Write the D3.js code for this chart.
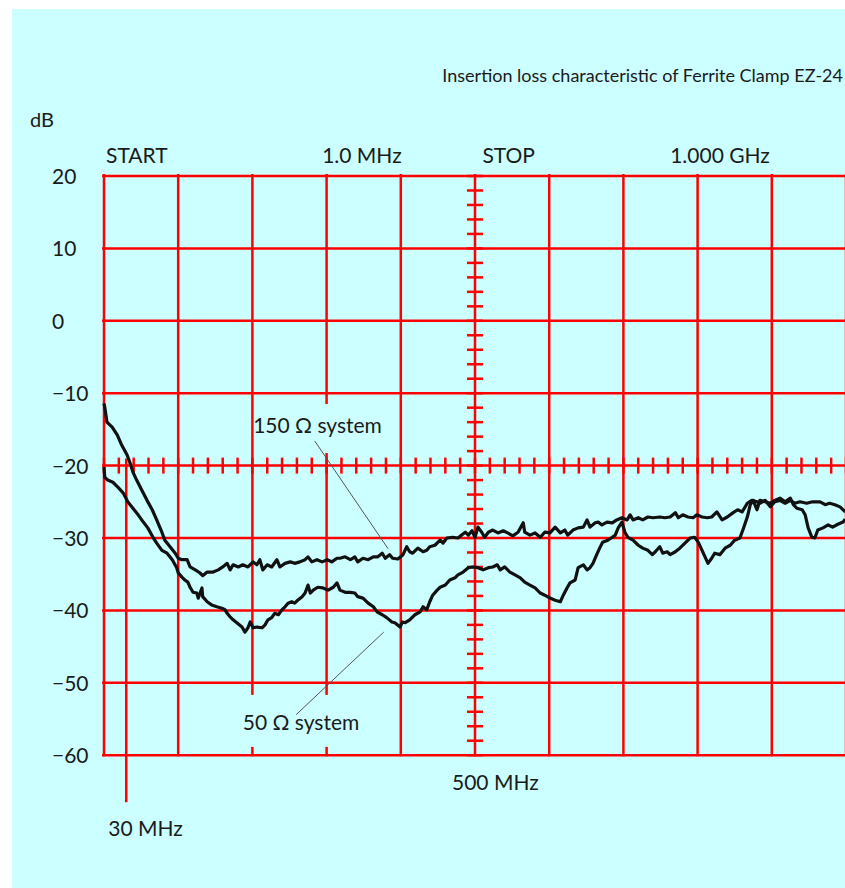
<!DOCTYPE html>
<html>
<head>
<meta charset="utf-8">
<script src="https://cdn.jsdelivr.net/npm/d3@7"></script>
<style>
  body { margin: 0; background: #fff; }
  text { font-family: Lato, 'Open Sans', sans-serif; fill: #1a1a1a; }
</style>
</head>
<body>
<svg class="chart" width="845" height="888"></svg>
<script>
const title = 'Insertion loss characteristic of Ferrite Clamp EZ-24';
const yTicks = [20, 10, 0, -10, -20, -30, -40, -50, -60];
const xGrid = [0, 100, 200, 300, 400, 500, 600, 700, 800, 900, 1000];
const topLabels = ['START', '1.0 MHz', 'STOP', '1.000 GHz'];
const bottomLabels = ['30 MHz', '500 MHz'];

// 150 ohm system trace (MHz, dB)
const freq150 = [0, 1, 4, 11, 18, 24, 31, 35, 39, 44, 51, 58, 65, 71, 78, 82, 89, 96, 100, 105,
  112, 116, 123, 129, 133, 139, 147, 154, 160, 166, 170, 174, 181, 187, 194, 201, 206, 210, 214, 220,
  226, 233, 237, 244, 251, 257, 264, 271, 275, 280, 287, 294, 301, 307, 314, 318, 325, 332, 338, 342,
  349, 356, 363, 369, 375, 379, 385, 389, 396, 403, 408, 412, 416, 423, 430, 435, 439, 446, 453, 457,
  462, 470, 477, 482, 487, 491, 496, 500, 504, 509, 513, 518, 524, 531, 538, 544, 551, 558, 565, 567,
  574, 581, 588, 594, 601, 608, 615, 621, 625, 632, 639, 646, 651, 655, 662, 666, 671, 678, 685, 691,
  698, 705, 709, 713, 720, 726, 733, 740, 749, 756, 763, 770, 774, 780, 787, 794, 799, 806, 813, 819,
  826, 833, 840, 848, 854, 860, 867, 873, 880, 884, 891, 898, 904, 911, 918, 925, 931, 938, 947, 955,
  965, 972, 978, 985, 992, 999];
const loss150 = [-11.4, -11.9, -14.0, -14.7, -15.8, -17.2, -18.5, -19.6, -20.9, -22.0, -23.4, -24.8, -26.1, -27.5, -29.2, -30.3, -31.2, -32.1, -32.8, -33.0,
  -33.0, -34.0, -34.4, -34.8, -35.2, -34.7, -34.7, -34.4, -34.0, -33.5, -34.4, -33.7, -34.0, -33.7, -34.0, -33.3, -33.7, -33.0, -34.4, -33.7,
  -34.0, -33.0, -34.0, -33.5, -33.3, -33.5, -33.3, -33.0, -32.6, -33.3, -33.0, -33.3, -33.0, -33.3, -32.8, -32.8, -32.6, -33.0, -32.6, -33.3,
  -32.8, -33.0, -32.6, -32.6, -32.1, -32.8, -32.3, -32.8, -32.9, -32.3, -31.2, -31.9, -32.1, -31.4, -31.9, -31.7, -31.2, -31.0, -30.3, -30.7,
  -30.0, -29.9, -30.0, -29.6, -29.2, -29.6, -29.0, -29.9, -28.5, -29.2, -29.9, -29.2, -28.9, -29.3, -29.0, -29.3, -29.7, -29.2, -27.9, -29.2,
  -29.6, -29.3, -29.9, -29.2, -29.3, -28.5, -29.3, -28.9, -29.6, -28.9, -28.6, -28.5, -27.5, -28.5, -27.9, -27.8, -28.2, -27.8, -27.9, -27.5,
  -27.2, -27.5, -26.8, -27.5, -27.2, -27.5, -27.1, -27.2, -27.1, -27.2, -27.1, -26.5, -27.2, -26.8, -27.1, -27.2, -26.8, -27.1, -27.2, -27.1,
  -26.4, -27.5, -27.1, -26.5, -26.1, -26.4, -25.2, -24.8, -25.0, -25.2, -24.8, -25.7, -25.0, -24.8, -25.2, -24.8, -25.2, -25.0, -25.2, -25.0,
  -25.0, -25.4, -25.2, -25.4, -25.7, -26.4];

// 50 ohm system trace (MHz, dB)
const freq50 = [0, 1, 5, 12, 19, 26, 32, 39, 46, 53, 59, 66, 71, 78, 85, 92, 98, 100, 105, 109,
  113, 116, 120, 125, 127, 132, 133, 139, 146, 152, 159, 163, 166, 170, 174, 179, 186, 190, 194, 197,
  201, 206, 213, 217, 221, 226, 230, 235, 240, 244, 248, 253, 257, 261, 267, 271, 275, 278, 282, 288,
  295, 302, 309, 314, 318, 325, 332, 338, 342, 349, 356, 363, 368, 375, 381, 388, 392, 399, 402, 406,
  412, 419, 426, 430, 435, 439, 443, 449, 453, 460, 466, 473, 477, 484, 491, 497, 504, 511, 518, 524,
  530, 534, 540, 547, 554, 561, 567, 574, 581, 588, 594, 601, 608, 615, 619, 624, 628, 635, 639, 646,
  651, 655, 659, 664, 668, 672, 679, 685, 689, 693, 698, 702, 706, 713, 720, 726, 733, 739, 743, 749,
  753, 759, 763, 770, 776, 783, 790, 796, 801, 806, 810, 814, 819, 823, 830, 837, 844, 850, 857, 861,
  867, 871, 875, 880, 884, 891, 898, 904, 911, 918, 925, 929, 934, 941, 945, 949, 954, 958, 962, 969,
  976, 982, 989, 996, 999];
const loss50 = [-20.2, -21.6, -22.0, -22.3, -23.0, -23.8, -25.0, -25.9, -26.8, -27.8, -28.6, -29.9, -30.7, -31.7, -32.1, -33.0, -34.1, -34.8, -35.4, -35.8,
  -36.1, -36.8, -37.5, -37.6, -38.3, -36.9, -38.1, -38.8, -39.3, -39.5, -39.7, -39.9, -40.4, -40.9, -41.3, -41.7, -42.3, -43.0, -42.4, -41.6,
  -42.4, -42.3, -42.4, -42.0, -41.3, -41.0, -40.4, -40.6, -39.9, -39.5, -39.0, -38.8, -39.0, -38.6, -38.1, -37.6, -36.5, -37.6, -37.2, -36.8,
  -36.9, -37.2, -36.8, -36.2, -37.2, -37.5, -37.5, -37.6, -38.1, -38.3, -39.0, -39.5, -40.2, -40.6, -41.0, -41.6, -41.7, -42.3, -41.6, -41.7,
  -41.3, -40.6, -40.2, -39.5, -39.9, -38.8, -37.9, -37.2, -36.8, -36.5, -35.8, -35.5, -35.1, -34.7, -34.1, -34.0, -34.1, -34.4, -34.1, -34.0,
  -33.7, -34.4, -34.0, -34.7, -35.1, -35.5, -36.1, -36.5, -36.9, -37.6, -37.9, -38.3, -38.6, -38.8, -37.9, -36.9, -36.2, -35.8, -34.1, -33.7,
  -34.4, -34.1, -33.5, -32.3, -31.4, -30.6, -30.3, -29.9, -29.6, -28.6, -27.8, -29.2, -29.9, -30.3, -31.0, -31.4, -31.7, -32.3, -31.9, -31.2,
  -32.1, -31.9, -32.3, -31.9, -31.4, -30.7, -30.0, -29.9, -30.6, -31.7, -32.6, -33.5, -32.8, -32.1, -32.3, -31.4, -31.0, -30.3, -30.0, -28.9,
  -27.1, -25.4, -24.8, -26.1, -24.8, -25.0, -25.2, -24.8, -24.5, -25.0, -24.5, -25.4, -25.9, -26.1, -26.8, -28.6, -29.9, -30.0, -28.9, -28.6,
  -28.2, -28.5, -28.1, -27.8, -27.4];

// callouts: label anchor and the point on the trace it points at
const notes = [
  { text: '150 Ω system', at: [201, -15.5], from: [284, -16.6], to: [383, -31.5], box: [1, -29, 132, 49] },
  { text: '50 Ω system', at: [187, -56.5], from: [259, -54.4], to: [377, -43.0], box: [-3, -35, 118, 52] }
];

const chart = d3.select('.chart');
const red = '#ff0000';

const xScale = d3.scaleLinear().domain([0, 1000]).range([104, 846]);
const yScale = d3.scaleLinear().domain([-60, 20]).range([755.2, 176]);

chart.append('rect')
  .attr('x', 12)
  .attr('y', 9)
  .attr('width', 833)
  .attr('height', 879)
  .attr('fill', '#ccffff');

/*
 ** Grid
 */
const gridGroup = chart.append('g')
  .attr('stroke', red)
  .attr('stroke-width', 2.5);

gridGroup.selectAll('line.h-grid')
  .data(yTicks)
  .enter()
  .append('line')
  .attr('class', 'h-grid')
  .attr('x1', xScale(0) - 2)
  .attr('x2', xScale(1000))
  .attr('y1', d => yScale(d))
  .attr('y2', d => yScale(d));

gridGroup.selectAll('line.v-grid')
  .data(xGrid)
  .enter()
  .append('line')
  .attr('class', 'v-grid')
  .attr('x1', d => xScale(d))
  .attr('x2', d => xScale(d))
  .attr('y1', yScale(20) - 2)
  .attr('y2', yScale(-60) + 1);

// minor ticks along the centre cross
gridGroup.selectAll('line.x-minor')
  .data(d3.range(0, 1001, 20))
  .enter()
  .append('line')
  .attr('class', 'x-minor')
  .attr('x1', d => xScale(d))
  .attr('x2', d => xScale(d))
  .attr('y1', yScale(-20) - 8)
  .attr('y2', yScale(-20) + 8);

gridGroup.selectAll('line.y-minor')
  .data(d3.range(-60, 20.1, 2))
  .enter()
  .append('line')
  .attr('class', 'y-minor')
  .attr('x1', xScale(500) - 8)
  .attr('x2', xScale(500) + 8)
  .attr('y1', d => yScale(d))
  .attr('y2', d => yScale(d));

// 30 MHz marker
gridGroup.append('line')
  .attr('x1', xScale(30))
  .attr('x2', xScale(30))
  .attr('y1', yScale(-20) - 7)
  .attr('y2', yScale(-60) + 47);

/*
 ** Callout boxes (cover the grid behind the labels)
 */
notes.forEach(n => {
  chart.append('rect')
    .attr('x', xScale(n.at[0]) + n.box[0])
    .attr('y', yScale(n.at[1]) + n.box[1])
    .attr('width', n.box[2])
    .attr('height', n.box[3])
    .attr('fill', '#ccffff');
});

/*
 ** Traces
 */
const line = d3.line()
  .x(d => xScale(d[0]))
  .y(d => yScale(d[1]));

[[freq150, loss150], [freq50, loss50]].forEach(s => {
  chart.append('path')
    .datum(d3.zip(s[0], s[1]))
    .attr('fill', 'none')
    .attr('stroke', '#111')
    .attr('stroke-width', 3.2)
    .attr('stroke-linejoin', 'round')
    .attr('d', line);
});

/*
 ** Callouts
 */
notes.forEach(n => {
  chart.append('text')
    .attr('x', xScale(n.at[0]))
    .attr('y', yScale(n.at[1]))
    .attr('font-size', 21)
    .text(n.text);
  chart.append('line')
    .attr('x1', xScale(n.from[0]))
    .attr('y1', yScale(n.from[1]))
    .attr('x2', xScale(n.to[0]))
    .attr('y2', yScale(n.to[1]))
    .attr('stroke', '#555')
    .attr('stroke-width', 1);
});

/*
 ** Texts
 */
chart.append('text')
  .attr('x', 843)
  .attr('y', 82)
  .attr('text-anchor', 'end')
  .attr('font-size', 18)
  .text(title);

chart.append('text')
  .attr('x', 30)
  .attr('y', 127)
  .attr('font-size', 20)
  .text('dB');

chart.selectAll('text.y-tick')
  .data(yTicks)
  .enter()
  .append('text')
  .attr('class', 'y-tick')
  .attr('x', 52)
  .attr('y', d => yScale(d) + 8)
  .attr('font-size', 21)
  .text(d => d < 0 ? '\u2212' + Math.abs(d) : d);

const topX = [xScale(0) + 2, xScale(294), xScale(510), xScale(763)];
chart.selectAll('text.top-label')
  .data(topLabels)
  .enter()
  .append('text')
  .attr('class', 'top-label')
  .attr('x', (d, i) => topX[i])
  .attr('y', 163)
  .attr('font-size', 21)
  .text(d => d);

chart.append('text')
  .attr('x', xScale(30) - 18)
  .attr('y', 836)
  .attr('font-size', 21)
  .text(bottomLabels[0]);

chart.append('text')
  .attr('x', xScale(500) - 23)
  .attr('y', 790)
  .attr('font-size', 21)
  .text(bottomLabels[1]);
</script>
</body>
</html>
